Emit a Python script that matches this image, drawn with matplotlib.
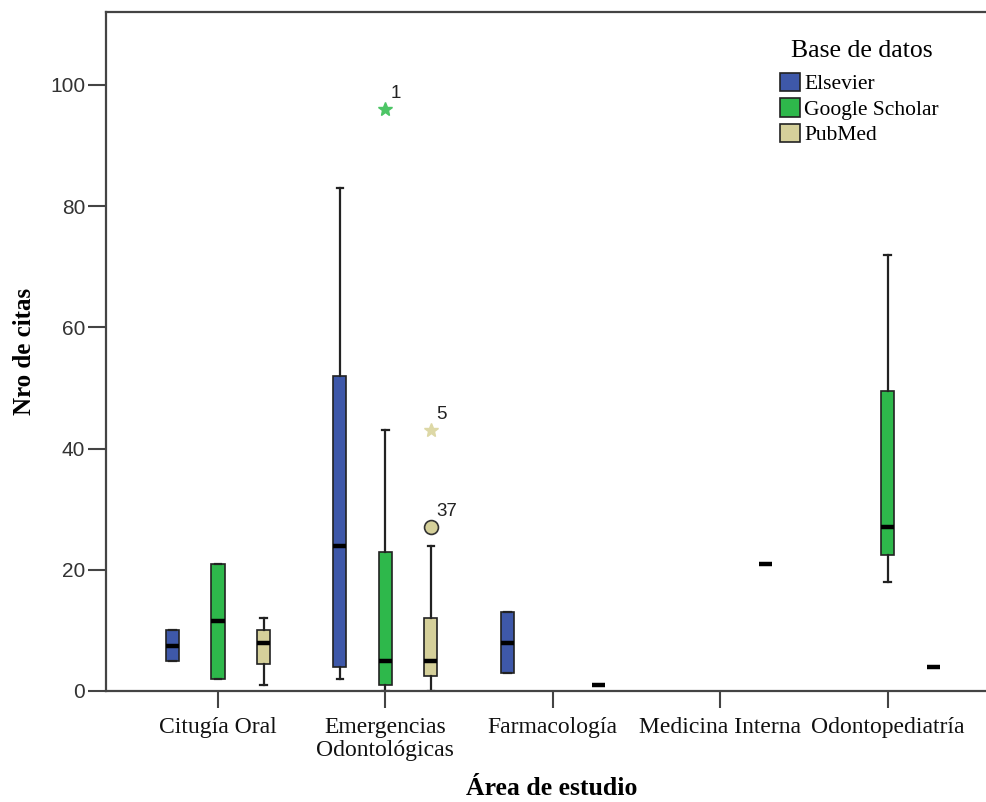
import matplotlib
matplotlib.use("Agg")
import matplotlib.pyplot as plt
from matplotlib.patches import Patch

# ---------------- data ----------------
categories = ["Citugía Oral", "Emergencias\nOdontológicas", "Farmacología",
              "Medicina Interna", "Odontopediatría"]
series = ["Elsevier", "Google Scholar", "PubMed"]
colors = ["#3E58A9", "#2EB84B", "#D5D09A"]

# stats per category: (whislo, q1, med, q3, whishi); None = no data
elsevier_stats = [(5, 5, 7.5, 10, 10), (2, 4, 24, 52, 83), (3, 3, 8, 13, 13), None, None]
google_stats = [(2, 2, 11.5, 21, 21), (0, 1, 5, 23, 43), None, None, (18, 22.5, 27, 49.5, 72)]
pubmed_stats = [(1, 4.5, 8, 10, 12), (0, 2.5, 5, 12, 24), (1, 1, 1, 1, 1), (21, 21, 21, 21, 21), (4, 4, 4, 4, 4)]
all_stats = [elsevier_stats, google_stats, pubmed_stats]

# outliers: (series index, category index, value, label, marker)
outliers = [(1, 1, 96, "1", "*"), (2, 1, 43, "5", "*"), (2, 1, 27, "37", "o")]

yticks = [0, 20, 40, 60, 80, 100]

# ---------------- figure ----------------
fig = plt.figure(figsize=(9.87, 8.02), dpi=100)
ax = fig.add_axes([106 / 987, 111 / 802, 1 - 106 / 987, (691 - 12) / 802])

offset = 0.272
bw = 0.078
spine_col = "#444444"

for si, stats in enumerate(all_stats):
    for ci, st in enumerate(stats):
        if st is None:
            continue
        lo, q1, med, q3, hi = st
        pos = ci + (si - 1) * offset
        d = dict(whislo=lo, q1=q1, med=med, q3=q3, whishi=hi, fliers=[])
        single = (lo == hi)
        ax.bxp([d], positions=[pos], widths=[bw], showfliers=False,
               patch_artist=True, capwidths=[bw * 0.5],
               boxprops=dict(facecolor=colors[si], edgecolor="#222222",
                             linewidth=1.2 if not single else 0),
               medianprops=dict(color="black", linewidth=3.2, solid_capstyle="butt"),
               whiskerprops=dict(color="#222222", linewidth=1.6),
               capprops=dict(color="#222222", linewidth=1.6),
               manage_ticks=False)

for si, ci, val, lab, mk in outliers:
    pos = ci + (si - 1) * offset
    if mk == "*":
        col = "#4CC565" if si == 1 else "#DDD8A6"
        ax.plot(pos, val, marker="*", color=col, markersize=10, linestyle="none", zorder=5)
    else:
        ax.plot(pos, val, marker="o", markerfacecolor=colors[si], markeredgecolor="#333333",
                markeredgewidth=1.2, markersize=10, linestyle="none", zorder=5)
    ax.annotate(lab, (pos, val), xytext=(4, 5), textcoords="offset points",
                fontsize=13.5, family="Liberation Sans", color="#222222", va="bottom", ha="left")

ax.set_xlim(-0.669, 4.594)
ax.set_ylim(0, 112)
ax.set_yticks(yticks)
ax.set_yticklabels([str(v) for v in yticks], family="Liberation Sans", fontsize=15, color="#333333")
ax.set_xticks(range(len(categories)))
ax.set_xticklabels(categories, family="Liberation Serif", fontsize=17, color="#111111",
                   linespacing=1.12)
ax.tick_params(axis="y", length=13, width=1.5, color=spine_col, pad=2)
ax.tick_params(axis="x", length=12, width=1.5, color=spine_col, pad=7)

for s in ["left", "bottom", "top"]:
    ax.spines[s].set_color(spine_col)
    ax.spines[s].set_linewidth(1.6)
ax.spines["right"].set_visible(False)

ax.set_ylabel("Nro de citas", family="Liberation Serif", fontsize=18, fontweight="bold",
              labelpad=10)
ax.set_xlabel("Área de estudio", family="Liberation Serif", fontsize=18.5, fontweight="bold")
ax.xaxis.set_label_coords((552 - 106) / (987 - 106), -0.127)

handles = [Patch(facecolor=c, edgecolor="#222222", linewidth=1.2) for c in colors]
leg = ax.legend(handles, series, title="Base de datos", loc="upper left",
                bbox_to_anchor=(780 / 987, 1 - 47 / 802), bbox_transform=fig.transFigure,
                frameon=False, prop=dict(family="Liberation Serif", size=15.5),
                title_fontproperties=dict(family="Liberation Serif", size=18.5),
                handlelength=0.93, handleheight=0.93, handletextpad=0.2,
                labelspacing=0.18, borderaxespad=0, borderpad=0)
leg._legend_box.align = "left"
leg.get_title().set_position((11, 7))

fig.savefig("out.png", dpi=100)
